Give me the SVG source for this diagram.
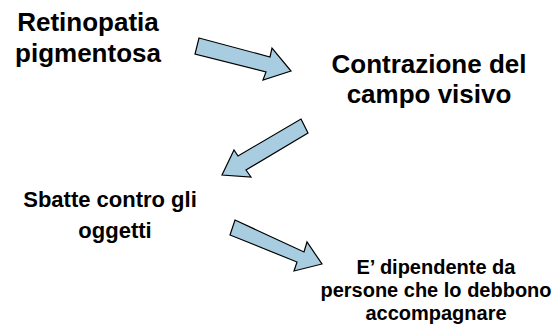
<svg xmlns="http://www.w3.org/2000/svg" width="559" height="327" viewBox="0 0 559 327">
<style>
.t{font-family:"Liberation Sans",Arial,sans-serif;font-weight:bold;fill:#000;text-anchor:middle}
.a{fill:#a8cde1;stroke:#000;stroke-width:1.2;stroke-linejoin:miter}
</style>
<rect width="559" height="327" fill="#fff"/>
<g id="connectors">
<polygon class="a" points="199,38 270,57 272,48 291,71 263,80 266,72 195,54"/>
<polygon class="a" points="301,119 308,133 246,170 251,177 222,175 234,150 238,156"/>
<polygon class="a" points="235,220 304,252 307,242 322,264 294,271 297,262 230,235"/>
</g>
<g id="n1"><text class="t" font-size="26" x="88" y="31">Retinopatia</text><text class="t" font-size="26" x="88" y="62">pigmentosa</text></g>
<g id="n2"><text class="t" font-size="26" x="429" y="73">Contrazione del</text><text class="t" font-size="26" x="429" y="103">campo visivo</text></g>
<g id="n3"><text class="t" font-size="22" x="110" y="207">Sbatte contro gli</text><text class="t" font-size="22" x="115" y="238">oggetti</text></g>
<g id="n4"><text class="t" font-size="20" x="436" y="274">E’ dipendente da</text><text class="t" font-size="20" x="436" y="297">persone che lo debbono</text><text class="t" font-size="20" x="436" y="320">accompagnare</text></g>
</svg>
